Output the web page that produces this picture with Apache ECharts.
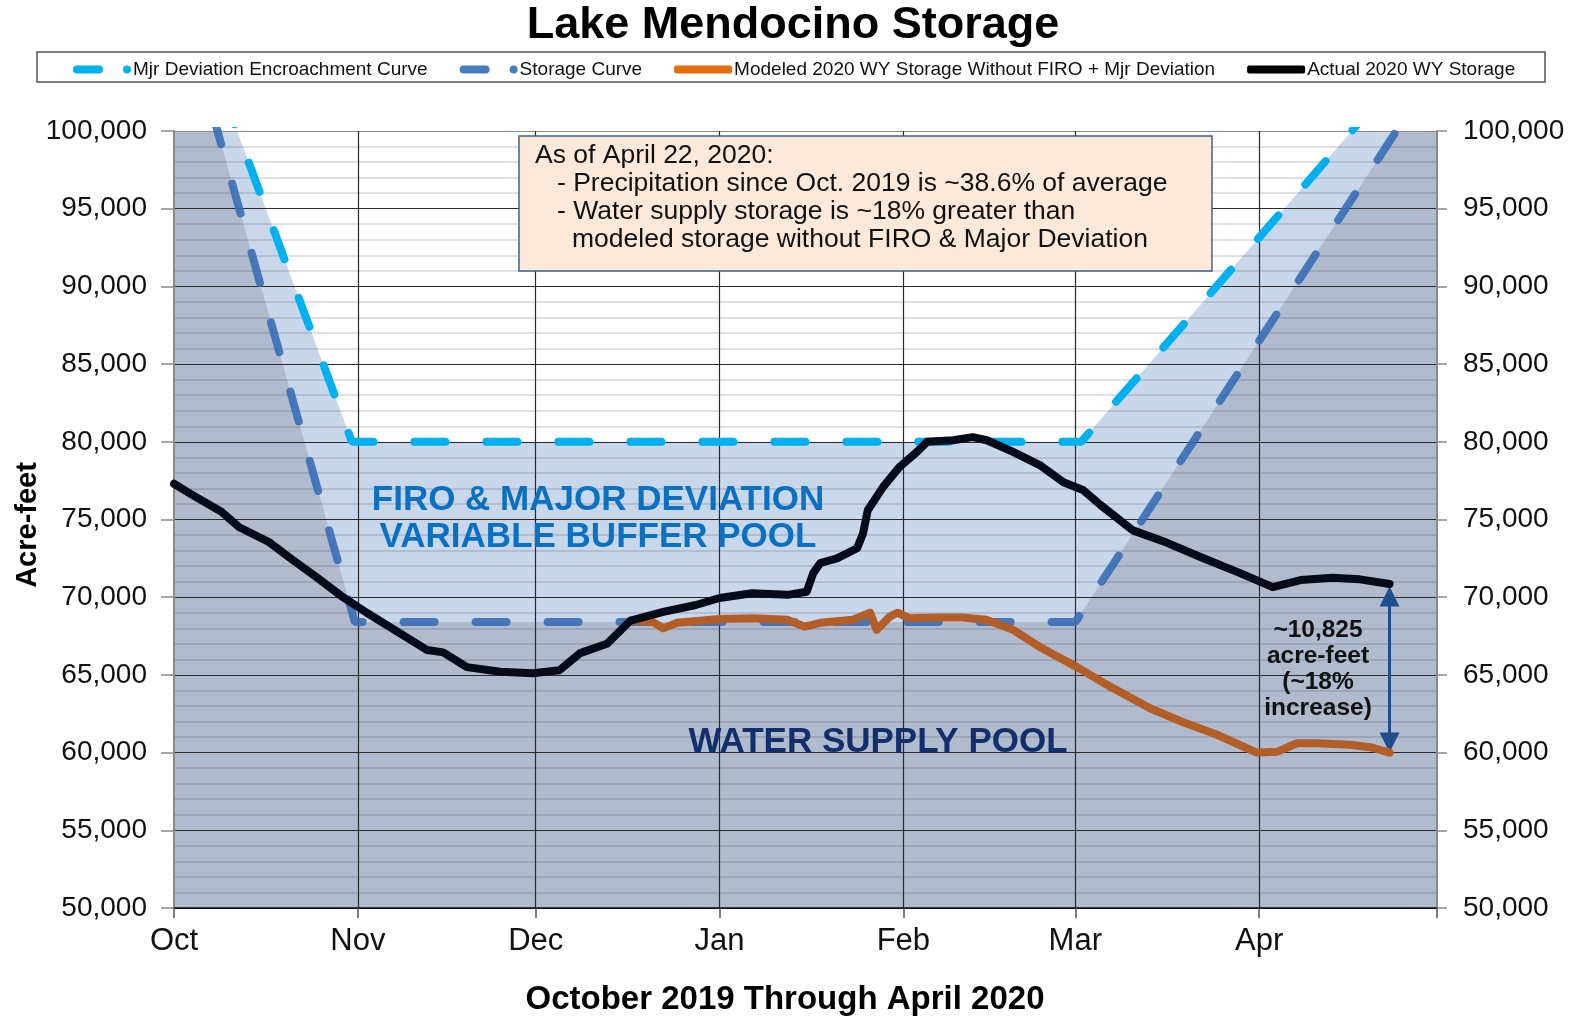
<!DOCTYPE html>
<html>
<head>
<meta charset="utf-8">
<title>Lake Mendocino Storage</title>
<script src="https://cdn.jsdelivr.net/npm/echarts@6/dist/echarts.min.js"></script>
<style>
  html, body { margin: 0; padding: 0; background: #fff; }
  #chart { width: 1570px; height: 1017px; }
</style>
</head>
<body>
<div id="chart"></div>
<script>
// x values are days counted from Oct 1, 2019
const monthStart = [0, 31, 61, 92, 123, 152, 183, 213]
const monthName = ['Oct', 'Nov', 'Dec', 'Jan', 'Feb', 'Mar', 'Apr']

// flood control curves
const encroachDay = [0, 30, 153, 213]
const encroachVal = [111000, 80000, 80000, 106300]
const storageDay = [0, 30.5, 152, 213]
const storageVal = [110000, 68400, 68400, 104000]

// actual 2020 WY storage
const actualDay = [0, 3, 8, 11, 16, 20, 24, 28.5, 32.5, 38, 42.7, 45.4, 49.4, 55, 60.5, 65, 68.5, 73, 77,
  82.5, 88, 92, 97.5, 103.5, 106.7, 107.8, 109, 111.8, 115.2, 116.2, 117, 119.6, 122.4, 125.3, 127,
  131.4, 134.7, 137.1, 141.5, 146, 150, 153.3, 156.2, 161.7, 167.5, 173, 179.8, 185.3, 190, 195.4, 200, 205]
const actualVal = [77300, 76600, 75500, 74500, 73550, 72400, 71300, 70000, 69000, 67700, 66600, 66450, 65500, 65200, 65100, 65300, 66400, 67000, 68500,
  69050, 69500, 69950, 70250, 70150, 70350, 71550, 72200, 72500, 73150, 74100, 75600, 77100, 78400, 79350, 80000,
  80100, 80300, 80100, 79350, 78500, 77400, 76900, 75950, 74300, 73500, 72600, 71550, 70650, 71100, 71250, 71150, 70850]

// modeled storage without FIRO + major deviation
const modeledDay = [77, 80.8, 82.5, 84.8, 92, 97.6, 103.4, 106.4, 109, 114.5, 117.4, 118.5, 120.7, 122, 124,
  128.7, 133, 137, 141.5, 146, 152.3, 156.7, 164.6, 170.2, 175.9, 182.6, 186, 189.4, 192.7, 198.3, 201.7, 205]
const modeledVal = [68500, 68400, 68000, 68350, 68600, 68650, 68550, 68100, 68350, 68550, 69000, 67900, 68750, 69000, 68650,
  68700, 68700, 68550, 67900, 66800, 65500, 64500, 62850, 61950, 61150, 60000, 60050, 60600, 60600, 60500, 60350, 60000]

// difference arrow
const arrowDay = 205
const arrowTop = 70050
const arrowBottom = 60650

const FONT = '"Liberation Sans", Arial, sans-serif'
const pairs = (d, v) => d.map((x, i) => [x, v[i]])
const dashIcon = 'path://M4,0H26A4,4 0 0 1 26,8H4A4,4 0 0 1 4,0Z M54,0A4,4 0 0 1 54,8A4,4 0 0 1 54,0Z'

const ySplitColors = ['#111']
for (let i = 0; i < 9; i++) ySplitColors.push('#2a2a2a')
ySplitColors.push('#8a8a8a')
const xSplitColors = ['rgba(0,0,0,0)']
for (let i = 0; i < 6; i++) xSplitColors.push('#2a2a2a')
xSplitColors.push('rgba(0,0,0,0)')

const yAxisBase = {
  type: 'value',
  min: 50000,
  max: 100000,
  interval: 5000,
  z: 3,
  axisLine: { show: true, lineStyle: { color: '#8a8a8a', width: 2 } },
  axisTick: { show: true, length: 13, lineStyle: { color: '#8a8a8a', width: 1.5 } },
  axisLabel: {
    margin: 27,
    fontSize: 28,
    fontFamily: FONT,
    color: '#111',
    formatter: v => v.toLocaleString('en-US')
  }
}

const textStyle = (size, extra) => Object.assign({ fontSize: size, fontFamily: FONT, fill: '#111', verticalAlign: 'middle' }, extra)

const chart = echarts.init(document.getElementById('chart'))
chart.setOption({
  animation: false,
  title: {
    text: 'Lake Mendocino Storage',
    left: 788,
    top: -2,
    textAlign: 'center',
    textStyle: { fontSize: 45, fontWeight: 'bold', fontFamily: FONT, color: '#000' }
  },
  legend: {
    left: 68,
    top: 55,
    itemWidth: 58,
    itemHeight: 8,
    itemGap: 32,
    selectedMode: false,
    itemStyle: { borderWidth: 0 },
    textStyle: { fontSize: 19, fontFamily: FONT, color: '#111', padding: [0, 0, 0, -3] },
    data: [
      { name: 'Mjr Deviation Encroachment Curve', icon: dashIcon, itemStyle: { color: '#00b0f0' } },
      { name: 'Storage Curve', icon: dashIcon, itemStyle: { color: '#4a7ebb' } },
      { name: 'Modeled 2020 WY Storage Without FIRO + Mjr Deviation', icon: 'roundRect', itemStyle: { color: '#e46c0a' } },
      { name: 'Actual 2020 WY Storage', icon: 'roundRect', itemStyle: { color: '#000' } }
    ]
  },
  grid: { left: 174, right: 133, top: 131, bottom: 109 },
  xAxis: {
    type: 'value',
    min: 0,
    max: 213,
    z: 3,
    axisLine: { lineStyle: { color: '#111', width: 1.5 } },
    axisTick: { show: true, length: 10, customValues: monthStart, lineStyle: { color: '#555', width: 1.5 } },
    axisLabel: {
      customValues: monthStart.slice(0, 7),
      margin: 18,
      fontSize: 31,
      fontFamily: FONT,
      color: '#111',
      formatter: v => monthName[monthStart.indexOf(v)]
    },
    splitLine: { show: true, lineStyle: { color: xSplitColors, width: 1.2 } }
  },
  yAxis: [
    Object.assign({}, yAxisBase, {
      position: 'left',
      splitLine: { show: true, lineStyle: { color: ySplitColors, width: 1.2 } },
      minorTick: { show: false, splitNumber: 5 },
      minorSplitLine: { show: true, lineStyle: { color: 'rgba(20,30,50,0.18)', width: 1.6 } }
    }),
    Object.assign({}, yAxisBase, {
      position: 'right',
      axisTick: { show: true, length: 10, lineStyle: { color: '#8a8a8a', width: 1.5 } },
      axisLabel: Object.assign({}, yAxisBase.axisLabel, { margin: 26 }),
      splitLine: { show: false }
    })
  ],
  graphic: [
    {
      type: 'rect', z: 10,
      shape: { x: 37, y: 52, width: 1508, height: 30 },
      style: { fill: 'none', stroke: '#555', lineWidth: 1.5 }
    },
    {
      type: 'text', x: 28, y: 525, rotation: Math.PI / 2, z: 10,
      style: textStyle(29, { text: 'Acre-feet', fontWeight: 'bold', fill: '#000', align: 'center' })
    },
    {
      type: 'text', x: 785, y: 1000, z: 10,
      style: textStyle(33, { text: 'October 2019 Through April 2020', fontWeight: 'bold', fill: '#000', align: 'center' })
    },
    {
      type: 'rect', z: 10,
      shape: { x: 519, y: 136, width: 693, height: 135 },
      style: { fill: '#fde9d9', stroke: '#41608f', lineWidth: 1.5 }
    },
    { type: 'text', x: 535, y: 156, z: 11, style: textStyle(26.5, { text: 'As of April 22, 2020:' }) },
    { type: 'text', x: 557, y: 184, z: 11, style: textStyle(26.5, { text: '- Precipitation since Oct. 2019 is ~38.6% of average' }) },
    { type: 'text', x: 557, y: 212, z: 11, style: textStyle(26.5, { text: '- Water supply storage is ~18% greater than' }) },
    { type: 'text', x: 572, y: 240, z: 11, style: textStyle(26.5, { text: 'modeled storage without FIRO & Major Deviation' }) },
    {
      type: 'text', x: 598, y: 519, z: 10,
      style: textStyle(35, { text: 'FIRO & MAJOR DEVIATION\nVARIABLE BUFFER POOL', lineHeight: 37, fontWeight: 'bold', fill: '#0a70c2', align: 'center' })
    },
    {
      type: 'text', x: 878, y: 742, z: 10,
      style: textStyle(35, { text: 'WATER SUPPLY POOL', fontWeight: 'bold', fill: '#102f6c', align: 'center' })
    },
    {
      type: 'text', x: 1318, y: 669, z: 10,
      style: textStyle(24.5, { text: '~10,825\nacre-feet\n(~18%\nincrease)', lineHeight: 26, fontWeight: 'bold', align: 'center' })
    }
  ],
  series: [
    {
      name: 'encroach-area',
      type: 'line',
      z: 1,
      silent: true,
      symbol: 'none',
      lineStyle: { width: 0 },
      areaStyle: { color: '#c9d7ea', opacity: 1 },
      data: pairs(encroachDay, encroachVal)
    },
    {
      name: 'storage-area',
      type: 'line',
      z: 1,
      silent: true,
      symbol: 'none',
      lineStyle: { width: 0 },
      areaStyle: { color: '#b0bbcd', opacity: 1 },
      data: pairs(storageDay, storageVal)
    },
    {
      name: 'Storage Curve',
      type: 'line',
      z: 5,
      symbol: 'none',
      lineStyle: { color: 'rgba(55,110,182,0.9)', width: 8, type: [31, 41], cap: 'round' },
      data: pairs(storageDay, storageVal)
    },
    {
      name: 'Mjr Deviation Encroachment Curve',
      type: 'line',
      z: 6,
      symbol: 'none',
      lineStyle: { color: '#00b0f0', width: 8, type: [31, 41], cap: 'round' },
      data: pairs(encroachDay, encroachVal)
    },
    {
      name: 'Modeled 2020 WY Storage Without FIRO + Mjr Deviation',
      type: 'line',
      z: 7,
      symbol: 'none',
      lineStyle: { color: '#b35d27', width: 8, cap: 'round', join: 'round' },
      data: pairs(modeledDay, modeledVal),
      markLine: {
        silent: true,
        symbol: ['triangle', 'triangle'],
        symbolSize: 20,
        label: { show: false },
        lineStyle: { color: '#1f4e8c', width: 3, type: 'solid' },
        data: [[{ coord: [arrowDay, arrowTop] }, { coord: [arrowDay, arrowBottom] }]]
      }
    },
    {
      name: 'Actual 2020 WY Storage',
      type: 'line',
      z: 8,
      symbol: 'none',
      lineStyle: { color: '#060b19', width: 8, cap: 'round', join: 'round' },
      data: pairs(actualDay, actualVal)
    }
  ]
})
</script>
</body>
</html>
